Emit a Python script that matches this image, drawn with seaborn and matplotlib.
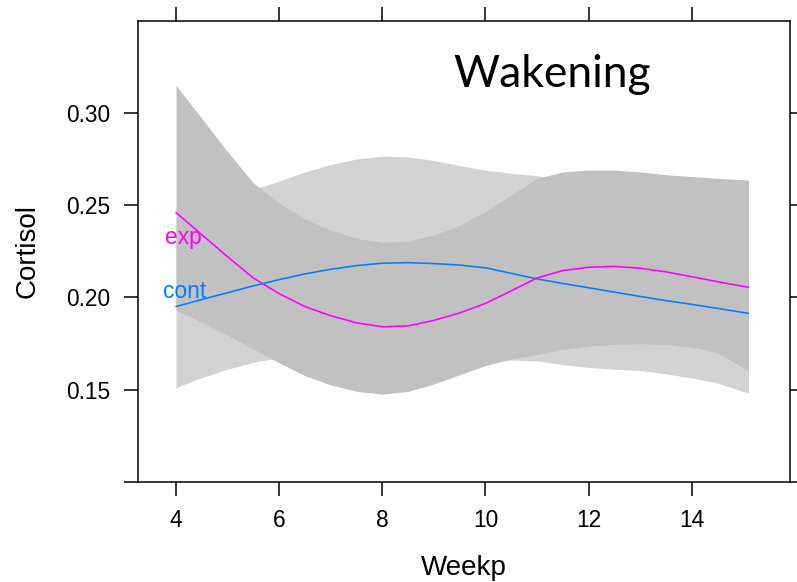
import pandas as pd
import seaborn as sns
import matplotlib.pyplot as plt

weeks = [4.0, 4.5, 5.0, 5.5, 6.0, 6.5, 7.0, 7.5, 8.0, 8.5, 9.0, 9.5,
         10.0, 10.5, 11.0, 11.5, 12.0, 12.5, 13.0, 13.5, 14.0, 14.5, 15.1]

# fitted cortisol, group "exp"
exp_fit = [0.2460, 0.2340, 0.2220, 0.2105, 0.2020, 0.1950, 0.1900, 0.1862,
           0.1840, 0.1845, 0.1875, 0.1915, 0.1967, 0.2035, 0.2105, 0.2145,
           0.2163, 0.2168, 0.2158, 0.2138, 0.2112, 0.2085, 0.2054]
exp_hi = [0.3150, 0.2970, 0.2790, 0.2620, 0.2510, 0.2425, 0.2365, 0.2320,
          0.2298, 0.2305, 0.2338, 0.2390, 0.2465, 0.2555, 0.2645, 0.2680,
          0.2690, 0.2690, 0.2680, 0.2665, 0.2655, 0.2645, 0.2636]
exp_lo = [0.1930, 0.1865, 0.1795, 0.1720, 0.1645, 0.1575, 0.1525, 0.1490,
          0.1475, 0.1490, 0.1530, 0.1580, 0.1630, 0.1665, 0.1690, 0.1718,
          0.1735, 0.1745, 0.1748, 0.1745, 0.1730, 0.1700, 0.1600]

# fitted cortisol, group "cont"
cont_fit = [0.1950, 0.1988, 0.2025, 0.2062, 0.2096, 0.2127, 0.2152, 0.2172,
            0.2185, 0.2188, 0.2183, 0.2175, 0.2160, 0.2130, 0.2100, 0.2075,
            0.2052, 0.2028, 0.2005, 0.1982, 0.1962, 0.1940, 0.1913]
cont_hi = [0.2380, 0.2450, 0.2515, 0.2585, 0.2630, 0.2680, 0.2720, 0.2750,
           0.2766, 0.2762, 0.2742, 0.2715, 0.2690, 0.2673, 0.2660, 0.2635,
           0.2620, 0.2610, 0.2600, 0.2590, 0.2580, 0.2570, 0.2560]
cont_lo = [0.1510, 0.1565, 0.1610, 0.1648, 0.1672, 0.1680, 0.1683, 0.1684,
           0.1684, 0.1682, 0.1679, 0.1672, 0.1658, 0.1660, 0.1655, 0.1635,
           0.1620, 0.1610, 0.1603, 0.1585, 0.1563, 0.1535, 0.1480]

x_ticks = [4, 6, 8, 10, 12, 14]
y_ticks = [0.10, 0.15, 0.20, 0.25, 0.30]
y_tick_labels = ['', '0.15', '0.20', '0.25', '0.30']

groups = ['cont', 'exp']
colors = {'cont': '#0080ff', 'exp': '#ff00ff'}
# where the direct labels sit (week, cortisol)
label_pos = {'cont': (3.75, 0.2029), 'exp': (3.79, 0.2327)}

df = pd.concat([
    pd.DataFrame({'Weekp': weeks, 'Cortisol': cont_fit, 'group': 'cont'}),
    pd.DataFrame({'Weekp': weeks, 'Cortisol': exp_fit, 'group': 'exp'}),
])

sns.set_theme(style='ticks')
plt.rcParams['font.family'] = ['Liberation Sans', 'DejaVu Sans']

fig = plt.figure(figsize=(7.97, 5.82), dpi=100)
ax = fig.add_axes([0.1728, 0.1723, 0.8184, 0.7921])

# confidence bands: cont light grey underneath, exp darker grey on top
ax.fill_between(weeks, cont_lo, cont_hi, color='#d3d3d3', lw=0, zorder=1)
ax.fill_between(weeks, exp_lo, exp_hi, color='#c1c1c1', lw=0, zorder=2)

sns.lineplot(data=df, x='Weekp', y='Cortisol', hue='group', palette=colors,
             hue_order=groups, legend=False, lw=1.15, ax=ax, zorder=3)

for g in groups:
    ax.text(label_pos[g][0], label_pos[g][1], g, color=colors[g],
            fontsize=16.4, ha='left', va='center', zorder=4)

ax.text(0.636, 0.8555, 'Wakening', transform=ax.transAxes, family='Lato',
        fontsize=32, ha='center', va='baseline', color='black')

ax.set_xlim(3.258, 15.905)
ax.set_ylim(0.10, 0.35)
ax.set_xticks(x_ticks)
ax.set_yticks(y_ticks)
ax.set_yticklabels(y_tick_labels)

ax.tick_params(direction='out', length=10, width=1.1, color='black',
               labelsize=16.4, labelcolor='black', pad=10,
               top=True, right=True, labeltop=False, labelright=False)
for s in ax.spines.values():
    s.set_visible(True)
    s.set_color('black')
    s.set_linewidth(1.1)

ax.set_xlabel('Weekp', fontsize=20, color='black', labelpad=16)
ax.set_ylabel('Cortisol', fontsize=20, color='black', labelpad=18)

fig.savefig('out.png', dpi=100)
